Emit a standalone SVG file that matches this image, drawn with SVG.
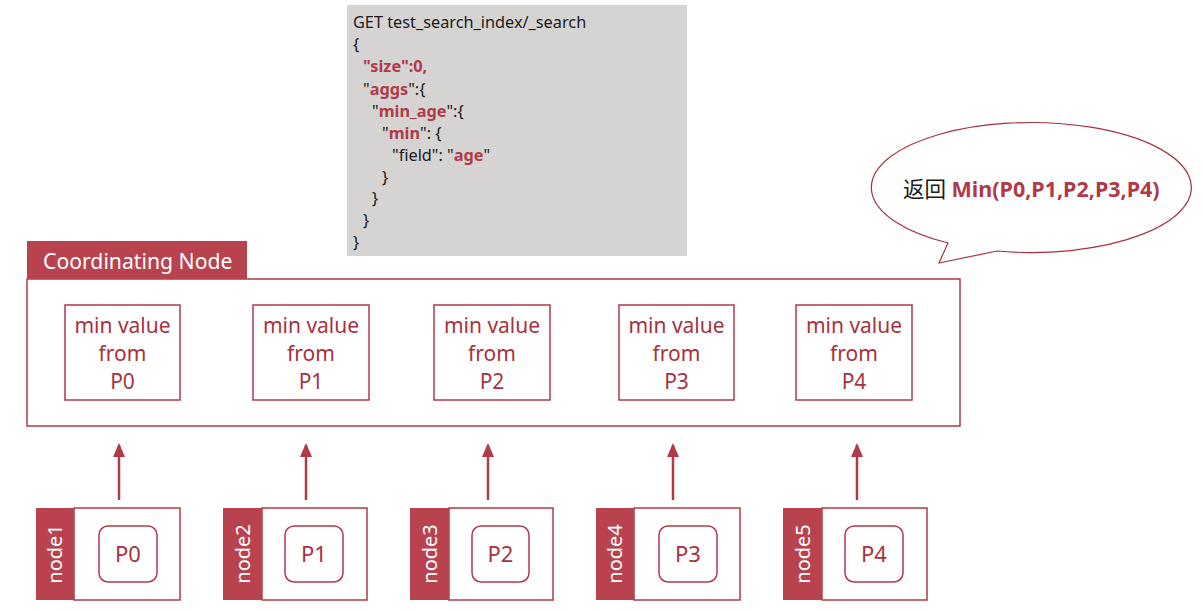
<svg xmlns="http://www.w3.org/2000/svg" width="1202" height="612" viewBox="0 0 1202 612">
<defs>
<style>
text{font-family:"Noto Sans","Liberation Sans","Noto Sans CJK SC",sans-serif}
.code{font-size:16.3px;fill:#1a1a1a}
.k{fill:#b03a48;font-weight:bold}
.box{fill:#fff;stroke:#b03a48;stroke-width:1.5}
.bar{fill:#b8434f}
.lbl{font-size:21px;fill:#a83240;text-anchor:middle}
.nl{font-size:20px;fill:#fff;text-anchor:middle}
.pl{font-size:22px;fill:#a83240;text-anchor:middle}
.arr{stroke:#b03a48;stroke-width:2.5;fill:none}
</style>
<marker id="ah" viewBox="0 0 14 12" refX="12" refY="6" markerWidth="14" markerHeight="12" markerUnits="userSpaceOnUse" orient="auto">
<path d="M0,0 L14,6 L0,12 Z" fill="#b03a48"/>
</marker>
</defs>
<rect width="1202" height="612" fill="#fff"/>

<g id="code">
<rect x="347" y="5" width="340" height="251" fill="#d6d4d3"/>
<text class="code" x="353" y="28">GET test_search_index/_search</text>
<text class="code" x="353" y="50">{</text>
<text class="code" x="363" y="72"><tspan class="k">"size":0,</tspan></text>
<text class="code" x="363" y="95">"<tspan class="k">aggs</tspan>":{</text>
<text class="code" x="372" y="117">"<tspan class="k">min_age</tspan>":{</text>
<text class="code" x="382" y="139">"<tspan class="k">min</tspan>": {</text>
<text class="code" x="392" y="161">"field": "<tspan class="k">age</tspan>"</text>
<text class="code" x="382" y="183">}</text>
<text class="code" x="372" y="204">}</text>
<text class="code" x="363" y="226">}</text>
<text class="code" x="353" y="248">}</text>
</g>

<g id="bubble">
<path d="M948,243 A160,65 0 1,1 997,251 L939,263 Z" fill="#fff" stroke="#a8303e" stroke-width="1.2"/>
<text x="903" y="197" style="font-size:21.5px;fill:#1a1a1a">返回 <tspan style="fill:#b03a48;font-weight:bold">Min(P0,P1,P2,P3,P4)</tspan></text>
</g>

<g id="coordinating">
<rect class="box" x="27" y="279" width="933" height="147"/>
<rect class="bar" x="27" y="241" width="220" height="38"/>
<text x="43" y="269" style="font-size:21.2px;fill:#fff">Coordinating Node</text>
</g>

<g id="min0"><rect class="box" x="65" y="305" width="115" height="95"/>
<text class="lbl" x="122.5" y="333">min value</text><text class="lbl" x="122.5" y="361">from</text><text class="lbl" x="122.5" y="389">P0</text></g>
<g id="min1"><rect class="box" x="253" y="305" width="116" height="95"/>
<text class="lbl" x="311" y="333">min value</text><text class="lbl" x="311" y="361">from</text><text class="lbl" x="311" y="389">P1</text></g>
<g id="min2"><rect class="box" x="434" y="305" width="116" height="95"/>
<text class="lbl" x="492" y="333">min value</text><text class="lbl" x="492" y="361">from</text><text class="lbl" x="492" y="389">P2</text></g>
<g id="min3"><rect class="box" x="619" y="305" width="115" height="95"/>
<text class="lbl" x="676.5" y="333">min value</text><text class="lbl" x="676.5" y="361">from</text><text class="lbl" x="676.5" y="389">P3</text></g>
<g id="min4"><rect class="box" x="796" y="305" width="116" height="95"/>
<text class="lbl" x="854" y="333">min value</text><text class="lbl" x="854" y="361">from</text><text class="lbl" x="854" y="389">P4</text></g>

<g id="connectors">
<line class="arr" x1="119" y1="500" x2="119" y2="445" marker-end="url(#ah)"/>
<line class="arr" x1="306" y1="500" x2="306" y2="445" marker-end="url(#ah)"/>
<line class="arr" x1="488" y1="500" x2="488" y2="445" marker-end="url(#ah)"/>
<line class="arr" x1="673" y1="500" x2="673" y2="445" marker-end="url(#ah)"/>
<line class="arr" x1="857" y1="500" x2="857" y2="445" marker-end="url(#ah)"/>
</g>

<g id="node1"><rect class="box" x="74" y="508" width="106" height="92"/><rect class="bar" x="36" y="508" width="38" height="92"/>
<text class="nl" transform="translate(62,554) rotate(-90)">node1</text>
<rect class="box" x="99" y="526" width="58" height="56" rx="9"/><text class="pl" x="128" y="562">P0</text></g>
<g id="node2"><rect class="box" x="262" y="508" width="105" height="92"/><rect class="bar" x="223" y="508" width="39" height="92"/>
<text class="nl" transform="translate(250,554) rotate(-90)">node2</text>
<rect class="box" x="285" y="526" width="58" height="56" rx="9"/><text class="pl" x="314" y="562">P1</text></g>
<g id="node3"><rect class="box" x="449" y="508" width="104" height="92"/><rect class="bar" x="410" y="508" width="39" height="92"/>
<text class="nl" transform="translate(437,554) rotate(-90)">node3</text>
<rect class="box" x="472" y="526" width="57" height="56" rx="9"/><text class="pl" x="500.5" y="562">P2</text></g>
<g id="node4"><rect class="box" x="634" y="508" width="106" height="92"/><rect class="bar" x="596" y="508" width="38" height="92"/>
<text class="nl" transform="translate(622,554) rotate(-90)">node4</text>
<rect class="box" x="659" y="526" width="58" height="56" rx="9"/><text class="pl" x="688" y="562">P3</text></g>
<g id="node5"><rect class="box" x="822" y="508" width="105" height="92"/><rect class="bar" x="783" y="508" width="39" height="92"/>
<text class="nl" transform="translate(810,554) rotate(-90)">node5</text>
<rect class="box" x="845" y="526" width="58" height="56" rx="9"/><text class="pl" x="874" y="562">P4</text></g>
</svg>
